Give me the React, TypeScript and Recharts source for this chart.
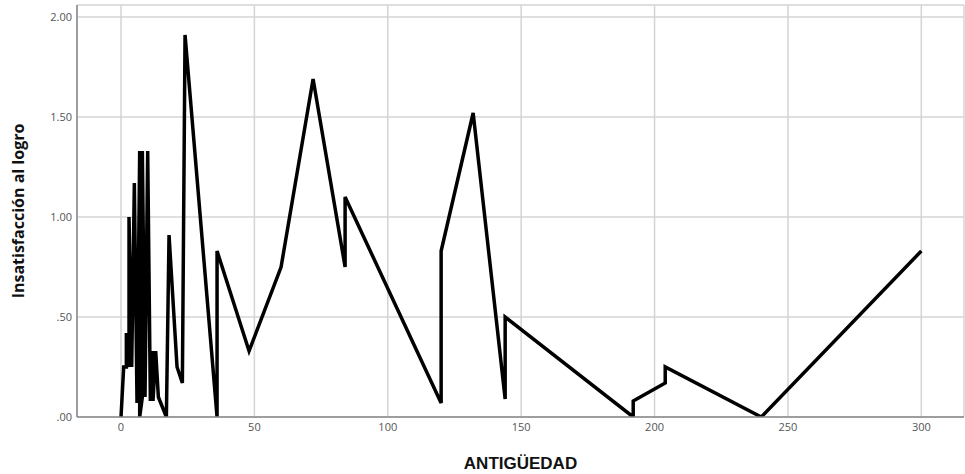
import { LineChart, Line, XAxis, YAxis, CartesianGrid, Label } from 'recharts'

// months of seniority, in plotting order (SPSS joins points in case order)
const antiguedad = [
  0, 1, 2, 2, 3, 3, 4, 5, 6, 7, 7, 8, 8, 9, 10, 11, 12, 12, 13, 14, 17, 18, 21, 23, 24,
  36, 36, 48, 60, 72, 84, 84, 120, 120, 132, 144, 144, 192, 192, 204, 204, 240, 300,
]
const insatisfaccion = [
  0, 0.25, 0.25, 0.42, 0.25, 1.0, 0.25, 1.17, 0.07, 1.33, 0, 0.1, 1.33, 0.1, 1.33, 0.08, 0.33, 0.08, 0.33, 0.1, 0, 0.91, 0.25, 0.17, 1.91,
  0, 0.83, 0.33, 0.75, 1.69, 0.75, 1.1, 0.07, 0.83, 1.52, 0.09, 0.5, 0, 0.08, 0.17, 0.25, 0, 0.83,
]
const xTicks = [0, 50, 100, 150, 200, 250, 300]
const yTicks = [0, 0.5, 1, 1.5, 2]

const data = antiguedad.map((x, i) => ({ x, y: insatisfaccion[i] }))

const fmtY = (v: number) => {
  const s = v.toFixed(2)
  return s.startsWith('0') ? s.slice(1) : s
}

const tickStyle = { fill: '#555', fontSize: 11, fontFamily: '"Open Sans", sans-serif' }

const YLabel = (props: any) => {
  const vb = props.viewBox
  const cy = vb.y + vb.height / 2
  return (
    <text
      x={18}
      y={cy}
      transform={`rotate(-90 18 ${cy})`}
      textAnchor="middle"
      dominantBaseline="central"
      fontSize={16}
      fontWeight="bold"
      fontFamily='"Open Sans", sans-serif'
      fill="#111"
    >
      Insatisfacción al logro
    </text>
  )
}

const XLabel = (props: any) => {
  const vb = props.viewBox
  return (
    <text
      x={vb.x + vb.width / 2}
      y={463}
      textAnchor="middle"
      dominantBaseline="central"
      fontSize={17}
      fontWeight="bold"
      fontFamily='"Liberation Sans", Arial, sans-serif'
      fill="#111"
    >
      ANTIGÜEDAD
    </text>
  )
}

export default function App() {
  return (
    <div style={{ position: 'absolute', left: 0, top: 0, background: '#fff', width: 965, height: 474 }}>
      <LineChart width={965} height={474} data={data} margin={{ top: 5, right: 1, bottom: 0, left: 0 }}>
        <CartesianGrid stroke="#d4d4d4" strokeWidth={1.5} />
        <XAxis
          dataKey="x"
          type="number"
          domain={[-16.5, 316]}
          ticks={xTicks}
          allowDataOverflow
          height={57}
          tickLine={false}
          tickSize={4}
          tickMargin={2}
          stroke="#888"
          strokeWidth={1.5}
          tick={tickStyle}
        >
          <Label content={XLabel} />
        </XAxis>
        <YAxis
          type="number"
          domain={[0, 2.06]}
          ticks={yTicks}
          allowDataOverflow
          width={77}
          tickLine={false}
          tickSize={2}
          tickMargin={3}
          tickFormatter={fmtY}
          stroke="#888"
          strokeWidth={1.5}
          tick={tickStyle}
        >
          <Label content={YLabel} />
        </YAxis>
        <Line
          dataKey="y"
          type="linear"
          stroke="#000"
          strokeWidth={3.5}
          dot={false}
          activeDot={false}
          strokeLinejoin="miter"
          isAnimationActive={false}
        />
      </LineChart>
    </div>
  )
}
